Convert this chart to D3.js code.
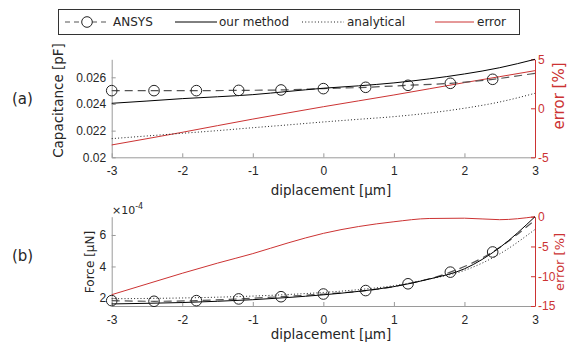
<!DOCTYPE html>
<html>
<head>
<meta charset="utf-8">
<script src="https://cdn.jsdelivr.net/npm/d3@7"></script>
<style>
  body { margin: 0; background: #fff; }
  svg { font-family: "DejaVu Sans", Verdana, sans-serif; display: block; }
</style>
</head>
<body>
<div id="chart"></div>
<script>
// displacement grid used by the model curves
const xGrid = [-3, -2.5, -2, -1.5, -1, -0.5, 0, 0.5, 1, 1.5, 2, 2.5, 3];
// ANSYS sample points (markers on all but the last)
const xAnsys = [-3, -2.4, -1.8, -1.2, -0.6, 0, 0.6, 1.2, 1.8, 2.4, 3];

// (a) capacitance [pF] and error [%]
const capAnsys = [0.02500, 0.02500, 0.02500, 0.02502, 0.02505, 0.02515, 0.02525, 0.02540, 0.02555, 0.02585, 0.02630];
const capOurs = [0.02405, 0.02422, 0.02440, 0.02454, 0.02470, 0.02494, 0.02518, 0.02536, 0.02558, 0.02588, 0.02625, 0.02672, 0.02735];
const capAnalytical = [0.02140, 0.02160, 0.02180, 0.02200, 0.02222, 0.02243, 0.02265, 0.02285, 0.02305, 0.02332, 0.02368, 0.02415, 0.02480];
const capError = [-3.74, -3.10, -2.45, -1.77, -1.10, -0.47, 0.16, 0.76, 1.36, 1.99, 2.62, 3.23, 3.84];

// (b) force [uN] (x1e-4) and error [%]
const forceAnsys = [1.83, 1.79, 1.83, 1.94, 2.08, 2.25, 2.47, 2.90, 3.64, 4.92, 6.95];
const forceOurs = [1.62, 1.66, 1.71, 1.79, 1.89, 2.03, 2.20, 2.42, 2.72, 3.20, 3.85, 5.20, 7.16];
const forceAnalytical = [1.95, 1.97, 2.00, 2.05, 2.12, 2.22, 2.35, 2.53, 2.78, 3.20, 3.75, 4.80, 6.35];
const forceError = [-13.1, -11.3, -9.5, -7.8, -6.2, -4.4, -2.8, -1.65, -0.85, -0.3, -0.25, -0.5, 0];

const xTicks = [-3, -2, -1, 0, 1, 2, 3];
const capTicks = [0.02, 0.022, 0.024, 0.026];
const capErrTicks = [-5, 0, 5];
const forceTicks = [2, 4, 6];
const forceErrTicks = [-15, -10, -5, 0];

const legendItems = ['ANSYS', 'our method', 'analytical', 'error'];

const W = 567, H = 342;
const RED = '#cc3333';
const AXIS = '#9a9a9a';
const TXT = '#262626';

// MATLAB style labels: plain hyphen minus
const plain = (d) => String(d);

const svg = d3.select('#chart').append('svg')
  .attr('width', W).attr('height', H);

const x = d3.scaleLinear().domain([-3, 3]).range([111.7, 535]);

function drawPanel(cfg) {
  const yL = d3.scaleLinear().domain(cfg.leftDomain).range([cfg.bottom, cfg.top]);
  const yR = d3.scaleLinear().domain(cfg.rightDomain).range([cfg.bottom, cfg.top]);
  const g = svg.append('g');

  // x axis (ticks point inward)
  const xa = g.append('g').attr('transform', `translate(0,${cfg.bottom})`)
    .call(d3.axisBottom(x).tickValues(xTicks).tickSizeInner(-4).tickSizeOuter(0).tickPadding(9)
      .tickFormat(plain));
  xa.select('.domain').attr('stroke', AXIS);
  xa.selectAll('.tick line').attr('stroke', AXIS);
  xa.selectAll('text').attr('fill', TXT).attr('font-size', 12);

  const ya = g.append('g').attr('transform', `translate(${x.range()[0]},0)`)
    .call(d3.axisLeft(yL).tickValues(cfg.leftTicks).tickSizeInner(-4).tickSizeOuter(0).tickPadding(5.5)
      .tickFormat(cfg.leftFormat));
  ya.select('.domain').attr('stroke', AXIS);
  ya.selectAll('.tick line').attr('stroke', AXIS);
  ya.selectAll('text').attr('fill', TXT).attr('font-size', 12);

  const ra = g.append('g').attr('transform', `translate(${x.range()[1]},0)`)
    .call(d3.axisRight(yR).tickValues(cfg.rightTicks).tickSizeInner(-4).tickSizeOuter(0).tickPadding(3)
      .tickFormat(plain));
  ra.select('.domain').attr('stroke', RED);
  ra.selectAll('.tick line').attr('stroke', RED);
  ra.selectAll('text').attr('fill', RED).attr('font-size', 12);

  const lineL = d3.line().x((d) => x(d[0])).y((d) => yL(d[1])).curve(d3.curveMonotoneX);
  const lineR = d3.line().x((d) => x(d[0])).y((d) => yR(d[1])).curve(d3.curveMonotoneX);

  // error curve on the right axis
  g.append('path').datum(d3.zip(xGrid, cfg.err))
    .attr('d', lineR).attr('fill', 'none').attr('stroke', RED).attr('stroke-width', 1);

  g.append('path').datum(d3.zip(xGrid, cfg.analytical))
    .attr('d', lineL).attr('fill', 'none').attr('stroke', '#222')
    .attr('stroke-width', 1).attr('stroke-dasharray', '1,2.2');

  g.append('path').datum(d3.zip(xAnsys, cfg.ansys))
    .attr('d', lineL).attr('fill', 'none').attr('stroke', '#555')
    .attr('stroke-width', 1.2).attr('stroke-dasharray', '8,5');

  g.append('path').datum(d3.zip(xGrid, cfg.ours))
    .attr('d', lineL).attr('fill', 'none').attr('stroke', '#000').attr('stroke-width', 1);

  g.selectAll('circle.m').data(d3.zip(xAnsys, cfg.ansys).slice(0, -1)).enter()
    .append('circle').attr('class', 'm')
    .attr('cx', (d) => x(d[0])).attr('cy', (d) => yL(d[1])).attr('r', 5.3)
    .attr('fill', 'none').attr('stroke', '#222').attr('stroke-width', 1);

  // axis labels
  g.append('text').attr('x', 331).attr('y', cfg.xlabelY).attr('text-anchor', 'middle')
    .attr('font-size', 13.5).attr('fill', TXT).text('diplacement [\u00b5m]');
  g.append('text').attr('transform', `translate(${cfg.ylabelX},${cfg.ylabelY}) rotate(-90)`)
    .attr('text-anchor', 'middle').attr('dy', '0.35em')
    .attr('font-size', cfg.ylabelSize).attr('fill', TXT).text(cfg.ylabel);
  g.append('text').attr('transform', `translate(564,${cfg.rlabelY}) rotate(-90)`)
    .attr('text-anchor', 'middle')
    .attr('font-size', cfg.rlabelSize).attr('fill', RED).text('error [%]');
  g.append('text').attr('x', 12).attr('y', cfg.panelY).attr('dy', '0.35em')
    .attr('font-size', 15).attr('fill', TXT).text(cfg.panel);
  return g;
}

drawPanel({
  top: 59.3, bottom: 157.3,
  leftDomain: [0.02, 0.02735], rightDomain: [-5, 5],
  leftTicks: capTicks, rightTicks: capErrTicks,
  leftFormat: (d) => (d === 0.02 ? '0.02' : d3.format('.3f')(d)),
  ansys: capAnsys, ours: capOurs, analytical: capAnalytical, err: capError,
  xlabelY: 195, ylabel: 'Capacitance [pF]', ylabelX: 58, ylabelY: 100.5, ylabelSize: 13.5,
  rlabelY: 96, rlabelSize: 15, panel: '(a)', panelY: 99
});

const pb = drawPanel({
  top: 216.7, bottom: 306,
  leftDomain: [1.49, 7.16], rightDomain: [-15, 0],
  leftTicks: forceTicks, rightTicks: forceErrTicks,
  leftFormat: plain,
  ansys: forceAnsys, ours: forceOurs, analytical: forceAnalytical, err: forceError,
  xlabelY: 339, ylabel: 'Force [\u00b5N]', ylabelX: 90, ylabelY: 262, ylabelSize: 12,
  rlabelY: 262, rlabelSize: 13, panel: '(b)', panelY: 256
});

// exponent label for the force axis
const ex = pb.append('text').attr('x', 112).attr('y', 214).attr('font-size', 11).attr('fill', TXT);
ex.append('tspan').text('\u00d710');
ex.append('tspan').attr('dy', -5).attr('font-size', 8).text('-4');

// legend
const lg = svg.append('g');
lg.append('rect').attr('x', 58.5).attr('y', 9.5).attr('width', 461).attr('height', 25)
  .attr('fill', '#fff').attr('stroke', '#333').attr('stroke-width', 1);
const ly = 22;
const legendPos = [
  { x1: 65, x2: 110, text: 113 },
  { x1: 175, x2: 217, text: 219 },
  { x1: 302, x2: 344, text: 347 },
  { x1: 435, x2: 474, text: 477 }
];
const legendStyle = [
  { stroke: '#555', dash: '5,4', w: 1.2 },
  { stroke: '#000', dash: null, w: 1 },
  { stroke: '#222', dash: '1,2.2', w: 1 },
  { stroke: RED, dash: null, w: 1 }
];
legendItems.forEach((name, i) => {
  const p = legendPos[i], s = legendStyle[i];
  lg.append('line').attr('x1', p.x1).attr('x2', p.x2).attr('y1', ly).attr('y2', ly)
    .attr('stroke', s.stroke).attr('stroke-width', s.w).attr('stroke-dasharray', s.dash);
  lg.append('text').attr('x', p.text).attr('y', ly).attr('dy', '0.35em')
    .attr('font-size', 12).attr('fill', TXT).text(name);
});
lg.append('circle').attr('cx', 87).attr('cy', ly).attr('r', 5.3)
  .attr('fill', '#fff').attr('stroke', '#222');
</script>
</body>
</html>
